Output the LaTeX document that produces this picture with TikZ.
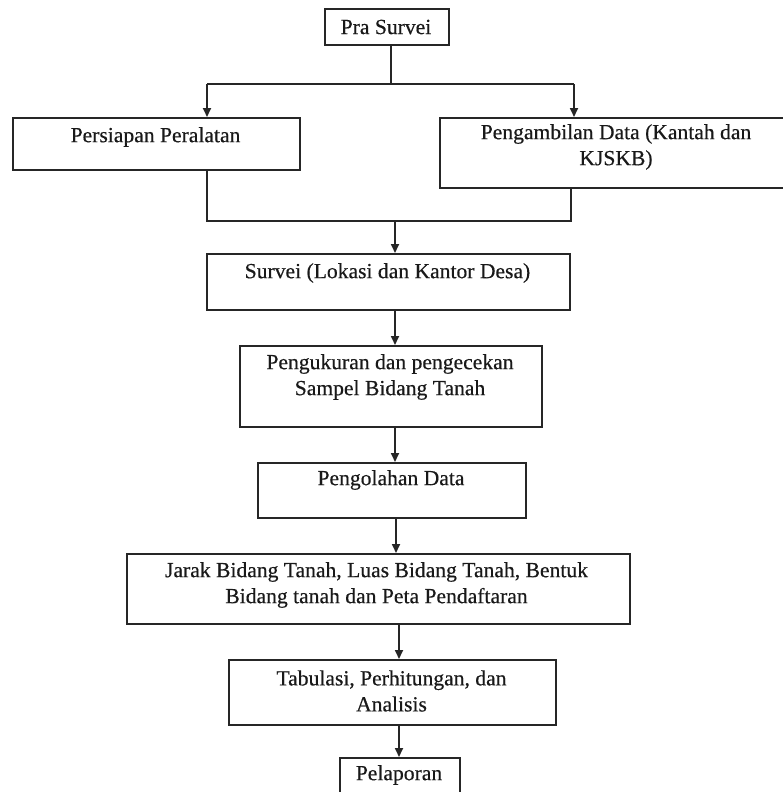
\documentclass[tikz,border=0pt]{standalone}
\usepackage{fontspec}
\setmainfont{Liberation Serif}
\newfontfamily\heavyserif{Liberation Serif}[FakeBold=0.4]
\usetikzlibrary{arrows.meta}
\begin{document}
\begin{tikzpicture}[x=1pt,y=-1pt,
  box/.style={draw=black!85, line width=1.7pt, inner sep=0pt, anchor=north west},
  txt/.style={inner sep=0pt, align=center, font=\heavyserif\fontsize{21.6}{26}\selectfont, text=black!90},
  conn/.style={draw=black!85, line width=1.7pt},
  arr/.style={conn, -{Triangle[width=8pt,length=9pt]}}]
\useasboundingbox (0,0) rectangle (782,792);
\fill[white] (0,0) rectangle (782,792);

% boxes
\node[box, minimum width=124pt, minimum height=36pt] (pra)   at (324,8)   {};
\node[box, minimum width=287pt, minimum height=52pt] (pers)  at (12,117)  {};
\node[box, minimum width=354pt, minimum height=70pt] (peng)  at (439,117) {};
\node[box, minimum width=363pt, minimum height=56pt] (surv)  at (206,253) {};
\node[box, minimum width=302pt, minimum height=81pt] (ukur)  at (239,345) {};
\node[box, minimum width=268pt, minimum height=55pt] (olah)  at (257,462) {};
\node[box, minimum width=503pt, minimum height=70pt] (jarak) at (126,553) {};
\node[box, minimum width=327pt, minimum height=65pt] (tab)   at (228,659) {};
\node[box, minimum width=120pt, minimum height=60pt] (lapor) at (339,757) {};

% texts
\node[txt] (tpra)   at (386,27)    {Pra Survei};
\node[txt] (tpers)  at (155.5,137) {Persiapan Peralatan};
\node[txt] (tpeng)  at (616,147)   {Pengambilan Data (Kantah dan\\KJSKB)};
\node[txt] (tsurv)  at (387.5,273) {Survei (Lokasi dan Kantor Desa)};
\node[txt] (tukur)  at (390,377)   {Pengukuran dan pengecekan\\Sampel Bidang Tanah};
\node[txt] (tolah)  at (391,480)   {Pengolahan Data};
\node[txt] (tjarak) at (376.5,585) {Jarak Bidang Tanah, Luas Bidang Tanah, Bentuk\\Bidang tanah dan Peta Pendaftaran};
\node[txt] (ttab)   at (391.5,691) {Tabulasi, Perhitungan, dan\\Analisis};
\node[txt] (tlapor) at (399,775)   {Pelaporan};

% connectors: split
\coordinate (j1) at (391,84);
\coordinate (jl) at (207,84);
\coordinate (jr) at (574,84);
\draw[conn] (pra.south -| j1) -- (j1);
\draw[conn] (jl) -- (jr);
\draw[arr] (jl) -- (jl |- pers.north);
\draw[arr] (jr) -- (jr |- peng.north);

% connectors: merge
\coordinate (kl) at (207,221);
\coordinate (kr) at (571,221);
\coordinate (km) at (395,221);
\draw[conn] (pers.south -| kl) -- (kl) -- (kr) -- (peng.south -| kr);
\draw[arr] (km) -- (km |- surv.north);

% straight chain
\coordinate (x1) at (395,0);
\coordinate (x2) at (396,0);
\coordinate (x3) at (399,0);
\draw[arr] (surv.south -| x1) -- (ukur.north -| x1);
\draw[arr] (ukur.south -| x1) -- (olah.north -| x1);
\draw[arr] (olah.south -| x2) -- (jarak.north -| x2);
\draw[arr] (jarak.south -| x3) -- (tab.north -| x3);
\draw[arr] (tab.south -| x3) -- (lapor.north -| x3);
\end{tikzpicture}
\end{document}
